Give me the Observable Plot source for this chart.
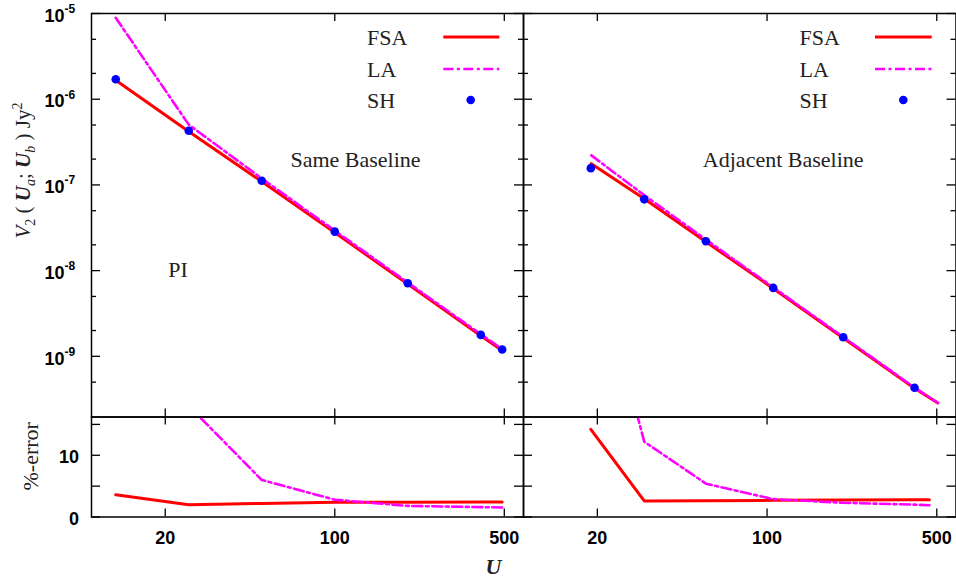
<!DOCTYPE html>
<html><head><meta charset="utf-8">
<script src="https://cdn.jsdelivr.net/npm/d3@7"></script>
<script src="https://cdn.jsdelivr.net/npm/@observablehq/plot@0.6"></script>
<style>
html,body{margin:0;padding:0;background:#fff;}
#chart{position:relative;width:956px;height:578px;overflow:hidden;background:#fff;}
#chart svg{position:absolute;left:0;top:0;}
</style></head><body><div id="chart"></div>
<script>
// ---------- data ----------
// Same Baseline (left panel)
const uSame      = [12.5, 25, 50, 100, 200, 400, 490];
const shSame     = [1.71e-6, 4.29e-7, 1.12e-7, 2.85e-8, 7.13e-9, 1.78e-9, 1.20e-9];
const fsaSame    = [1.66e-6, 4.20e-7, 1.095e-7, 2.78e-8, 6.96e-9, 1.74e-9, 1.17e-9];
const laSame     = [8.9e-6, 5.05e-7, 1.19e-7, 2.93e-8, 7.26e-9, 1.81e-9, 1.22e-9];
const errFsaSame = [3.6, 2.0, 2.2, 2.4, 2.4, 2.45, 2.45];
const errLaSame  = [420, 18, 6.0, 2.8, 1.8, 1.6, 1.55];

// Adjacent Baseline (right panel)
const uAdjSH     = [18.8, 31.2, 56, 106, 206, 405];
const shAdj      = [1.57e-7, 6.79e-8, 2.20e-8, 6.29e-9, 1.67e-9, 4.30e-10];
const uAdjLine   = [18.9, 31.2, 56, 106, 206, 405, 505];
const fsaAdj     = [1.77e-7, 6.9e-8, 2.17e-8, 6.2e-9, 1.64e-9, 4.25e-10, 2.85e-10];
const laAdj      = [2.21e-7, 7.6e-8, 2.3e-8, 6.4e-9, 1.68e-9, 4.32e-10, 2.87e-10];
const uAdjErr    = [18.8, 31.2, 56, 106, 206, 405, 466];
const errFsaAdj  = [14.2, 2.6, 2.65, 2.7, 2.75, 2.8, 2.8];
const errLaAdj   = [45, 12.2, 5.4, 2.9, 2.3, 2.0, 1.9];

// ticks / labels
const xTicks     = [20, 100, 500];
const yMajor     = [1e-5, 1e-6, 1e-7, 1e-8, 1e-9];
const yMinor     = [5e-6, 2e-6, 5e-7, 2e-7, 5e-8, 2e-8, 5e-9, 2e-9, 5e-10];
const errTicks   = [0, 5, 10, 15];
const errLabels  = [0, 10];
const seriesNames = ["FSA", "LA", "SH"];
const YLABEL = "V2 (Ua; Ub) Jy2";

// ---------- layout / style ----------
const W = 956, H = 578;
const COLS = {L: [91, 523], R: [523, 955.5]};
const TOP = [13, 416.5], BOT = [416.5, 516.5];
const xDomain = [9.93, 600];
const yTopDomain = [1.96e-10, 1e-5];
const yBotDomain = [0, 16.2];
const SANS = "'Liberation Sans', Arial, Helvetica, sans-serif";
const SERIF = "'Liberation Serif', 'Times New Roman', serif";
const RED = "#ff0000", MAG = "#ff00ff", BLUE = "#0000ff";
const DASH = "10,3.5,3,3.5";
const CENTER = {textAnchor: "middle", lineAnchor: "middle"};

const rec = (xs, ys) => xs.map((x, i) => ({x, y: ys[i]}));

function frameTicks(fw, fh, yMaj, yMin) {
  const s = {stroke: "black", strokeWidth: 1.3};
  const m = [
    Plot.tickY(yMaj, {y: d => d, insetRight: fw - 9, ...s}),
    Plot.tickY(yMaj, {y: d => d, insetLeft: fw - 9, ...s}),
    Plot.tickX(xTicks, {x: d => d, insetBottom: fh - 8, ...s}),
    Plot.tickX(xTicks, {x: d => d, insetTop: fh - 8, ...s})
  ];
  if (yMin) {
    m.push(Plot.tickY(yMin, {y: d => d, insetRight: fw - 5, ...s}));
    m.push(Plot.tickY(yMin, {y: d => d, insetLeft: fw - 5, ...s}));
  }
  return m;
}

function makePlot(col, row, yScale, marks) {
  const [x0, x1] = COLS[col];
  const [y0, y1] = row;
  return Plot.plot({
    width: W, height: H,
    marginLeft: x0, marginRight: W - x1, marginTop: y0, marginBottom: H - y1,
    x: {type: "log", domain: xDomain, axis: null},
    y: {...yScale, axis: null},
    style: {background: "transparent", overflow: "visible"},
    marks: [
      ...frameTicks(x1 - x0, y1 - y0, yScale.type === "log" ? yMajor : errTicks, yScale.type === "log" ? yMinor : null),
      ...marks,
      Plot.frame({stroke: "black", strokeWidth: 1.5})
    ]
  });
}

const topY = {type: "log", domain: yTopDomain};
const botY = {type: "linear", domain: yBotDomain};

const yTickLabels = [
  Plot.text(yMajor, {y: d => d, text: () => "10", frameAnchor: "left", textAnchor: "end", lineAnchor: "middle", dx: -27, dy: 2.5,
    fontSize: 18, fontWeight: "bold", fontFamily: SANS, fill: "black"}),
  Plot.text(yMajor, {y: d => d, text: d => String(Math.round(Math.log10(d))), frameAnchor: "left", textAnchor: "start",
    lineAnchor: "middle", dx: -27, dy: -4.5, fontSize: 12, fontWeight: "bold", fontFamily: SANS, fill: "black"})
];
const xTickLabels = Plot.text(xTicks, {x: d => d, text: d => String(d), frameAnchor: "bottom", ...CENTER, dy: 21,
  fontSize: 18, fontWeight: "bold", fontFamily: SANS, fill: "black"});

function dataMarks(fsa, la, sh) {
  return [
    Plot.line(fsa, {x: "x", y: "y", stroke: RED, strokeWidth: 3, clip: true}),
    Plot.line(la, {x: "x", y: "y", stroke: MAG, strokeWidth: 2.6, strokeDasharray: DASH, clip: true}),
    ...(sh ? [Plot.dot(sh, {x: "x", y: "y", r: 4.3, fill: BLUE, stroke: "none"})] : [])
  ];
}

const chart = document.getElementById("chart");

// top-left
const pTL = makePlot("L", TOP, topY, [
  ...dataMarks(rec(uSame, fsaSame), rec(uSame, laSame), rec(uSame, shSame)),
  ...yTickLabels,
  Plot.text([YLABEL], {text: d => d, frameAnchor: "left", ...CENTER, dx: 23 - 91, dy: 170 - (TOP[0] + TOP[1]) / 2, rotate: -90,
    fontSize: 21, fontFamily: SERIF, fill: "#222"}),
  Plot.text(["Same Baseline"], {text: d => d, frameAnchor: "top-left", ...CENTER, dx: 355 - 91, dy: 159 - 13,
    fontSize: 22, fontFamily: SERIF, fill: "#222"}),
  Plot.text(["PI"], {text: d => d, frameAnchor: "top-left", ...CENTER, dx: 177.5 - 91, dy: 269 - 13,
    fontSize: 22, fontFamily: SERIF, fill: "#222"})
]);
// top-right
const pTR = makePlot("R", TOP, topY, [
  ...dataMarks(rec(uAdjLine, fsaAdj), rec(uAdjLine, laAdj), rec(uAdjSH, shAdj)),
  Plot.text(["Adjacent Baseline"], {text: d => d, frameAnchor: "top-left", ...CENTER, dx: 782.7 - 523, dy: 159 - 13,
    fontSize: 22, fontFamily: SERIF, fill: "#222"})
]);
// bottom-left
const pBL = makePlot("L", BOT, botY, [
  ...dataMarks(rec(uSame, errFsaSame), rec(uSame, errLaSame), null),
  Plot.text(errLabels, {y: d => d, text: d => String(d), frameAnchor: "left", textAnchor: "end", lineAnchor: "middle", dx: -12.5, dy: 2,
    fontSize: 18, fontWeight: "bold", fontFamily: SANS, fill: "black"}),
  xTickLabels,
  Plot.text(["%-error"], {text: d => d, frameAnchor: "left", ...CENTER, dx: 30 - 91, dy: 455.8 - (BOT[0] + BOT[1]) / 2, rotate: -90,
    fontSize: 22, fontFamily: SERIF, fill: "#222"}),
  Plot.text(["U"], {text: d => d, frameAnchor: "bottom-right", ...CENTER, dx: 493 - 523, dy: 566 - 516.5,
    fontSize: 22, fontStyle: "italic", fontWeight: "bold", fontFamily: SERIF, fill: "#222"})
]);
// bottom-right
const pBR = makePlot("R", BOT, botY, [
  ...dataMarks(rec(uAdjErr, errFsaAdj), rec(uAdjErr, errLaAdj), null),
  xTickLabels
]);

for (const p of [pTL, pTR, pBL, pBR]) chart.appendChild(p);

// rich y label (italic, bold vectors, sub/superscripts)
for (const t of pTL.querySelectorAll("text")) {
  if (t.textContent === YLABEL) {
    t.textContent = "";
    const parts = [
      {s: "V", it: true}, {s: "2", sub: true}, {s: " ( "}, {s: "U", it: true, b: true}, {s: "a", it: true, sub: true},
      {s: "; "}, {s: "U", it: true, b: true}, {s: "b", it: true, sub: true}, {s: " ) Jy"}, {s: "2", sup: true}
    ];
    let shift = 0;
    for (const p of parts) {
      const ts = document.createElementNS("http://www.w3.org/2000/svg", "tspan");
      const target = p.sub ? 5 : p.sup ? -8 : 0;
      const dy = target - shift; shift = target;
      if (dy) ts.setAttribute("dy", dy);
      if (p.sub || p.sup) ts.setAttribute("font-size", 14);
      if (p.it) ts.setAttribute("font-style", "italic");
      if (p.b) ts.setAttribute("font-weight", "bold");
      ts.textContent = p.s;
      t.appendChild(ts);
    }
  }
}

// legends (inside each top panel)
const leg = d3.select(chart).append("svg").attr("width", W).attr("height", H)
  .style("position", "absolute").style("left", "0px").style("top", "0px").style("pointer-events", "none");
const legendPos = [
  {tx: 367, l0: 443.3, l1: 499.3, dot: 470.7},
  {tx: 799.5, l0: 875, l1: 931.7, dot: 903.3}
];
const rowY = [37, 69, 100];
for (const lp of legendPos) {
  seriesNames.forEach((name, i) => {
    leg.append("text").attr("x", lp.tx).attr("y", rowY[i] + 7.5).attr("font-family", SERIF).attr("font-size", 22)
      .attr("fill", "#222").text(name);
    if (name === "FSA") {
      leg.append("line").attr("x1", lp.l0).attr("x2", lp.l1).attr("y1", rowY[i]).attr("y2", rowY[i])
        .attr("stroke", RED).attr("stroke-width", 3);
    } else if (name === "LA") {
      leg.append("line").attr("x1", lp.l0).attr("x2", lp.l1).attr("y1", rowY[i]).attr("y2", rowY[i])
        .attr("stroke", MAG).attr("stroke-width", 2.6).attr("stroke-dasharray", DASH);
    } else {
      leg.append("circle").attr("cx", lp.dot).attr("cy", rowY[i]).attr("r", 4.3).attr("fill", BLUE);
    }
  });
}
</script></body></html>
